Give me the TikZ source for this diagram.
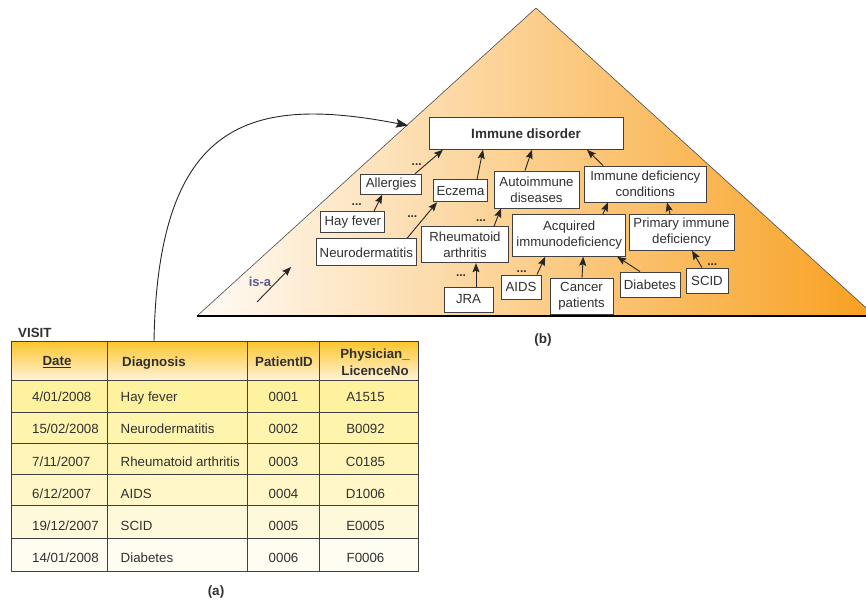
\documentclass[tikz,border=0pt]{standalone}
\usepackage{fontspec}
\setmainfont{Liberation Sans}
\usetikzlibrary{arrows.meta}
\definecolor{txt}{HTML}{303030}
\definecolor{orng}{HTML}{F8A020}
\definecolor{isacol}{HTML}{5A5A8C}
\definecolor{hdtop}{HTML}{FDC52C}
\definecolor{hdbot}{HTML}{FFF3D6}
\definecolor{rowa}{HTML}{FFF29E}
\definecolor{rowb}{HTML}{FFF4AE}
\definecolor{rowc}{HTML}{FFF5B8}
\definecolor{rowd}{HTML}{FFF7C8}
\definecolor{rowe}{HTML}{FFF9DC}
\definecolor{rowf}{HTML}{FFFDF2}
\begin{document}
\begin{tikzpicture}[x=1pt,y=-1pt,
  box/.style={draw=black!75, fill=white, line width=0.9pt, inner sep=0pt, align=center, text=txt, font=\fontsize{13.2}{16}\selectfont},
  arr/.style={-{Stealth[length=9pt,width=7pt,inset=1.5pt]}, line width=0.9pt, black!85},
  dotsnode/.style={font=\bfseries\fontsize{12}{12}\selectfont, inner sep=0pt, anchor=base, text=txt},
  cell/.style={font=\fontsize{13.3}{15}\selectfont, inner sep=0pt, anchor=base, text=txt},
  cellw/.style={cell, anchor=base west},
  head/.style={font=\bfseries\fontsize{13.3}{17}\selectfont, inner sep=0pt, text=txt, align=center},
  grid/.style={draw=black!75, line width=0.9pt},
  lbl/.style={font=\bfseries\fontsize{13.5}{15}\selectfont, inner sep=0pt, text=txt}]
\useasboundingbox (0,0) rectangle (866,605);

% ---------- triangle (b)
\begin{scope}
\clip (0,0) rectangle (866,605);
\shade[left color=orng!4!white, middle color=orng!52!white, right color=orng] (197,316) -- (536,8) -- (875,316) -- cycle;
\draw[black!70, line width=0.6pt] (197,316) -- (536,8) -- (875,316);
\draw[black, line width=1.3pt] (197,316) -- (875,316);
\end{scope}

% ---------- nodes
\node[box, font=\bfseries\fontsize{13.5}{15}\selectfont, minimum width=194pt, minimum height=32pt] (imm) at (526,133.3) {Immune disorder};
\node[box, minimum width=61pt, minimum height=20pt] (allg) at (391.2,184.2) {Allergies};
\node[box, minimum width=54pt, minimum height=22pt] (ecz) at (460.5,190.8) {Eczema};
\node[box, minimum width=85pt, minimum height=37pt] (auto) at (536.5,189.5) {Autoimmune\\diseases};
\node[box, minimum width=122pt, minimum height=36pt] (idc) at (645.3,184) {Immune deficiency\\conditions};
\node[box, minimum width=64pt, minimum height=21pt] (hay) at (352.9,222.2) {Hay fever};
\node[box, minimum width=100pt, minimum height=27pt] (neuro) at (366.3,252.3) {Neurodermatitis};
\node[box, minimum width=87pt, minimum height=36pt] (rheu) at (465,244.7) {Rheumatoid\\arthritis};
\node[box, minimum width=113pt, minimum height=42pt] (acq) at (569.2,235.3) {Acquired\\immunodeficiency};
\node[box, minimum width=105pt, minimum height=36pt] (prim) at (681.5,232.3) {Primary immune\\deficiency};
\node[box, minimum width=49pt, minimum height=25pt] (jra) at (468.5,299.5) {JRA};
\node[box, minimum width=40pt, minimum height=24pt] (aids) at (521,287) {AIDS};
\node[box, minimum width=63pt, minimum height=36pt] (canc) at (581.5,296) {Cancer\\patients};
\node[box, minimum width=60pt, minimum height=25pt] (diab) at (650,284.5) {Diabetes};
\node[box, minimum width=42pt, minimum height=25pt] (scid) at (707,280.5) {SCID};

% ---------- is-a arrows
\draw[arr] ([xshift=23.8pt]allg.north) -- ([xshift=-83pt]imm.south);
\draw[arr] ([xshift=21pt]hay.north) -- ([xshift=-9pt]allg.south);
\draw[arr] ([xshift=40.7pt]neuro.north) -- ([xshift=-23.5pt]ecz.south);
\draw[arr] ([xshift=16.5pt]ecz.north) -- ([xshift=-43pt]imm.south);
\draw[arr] ([xshift=29pt]rheu.north) -- ([xshift=-35.5pt]auto.south);
\draw[arr] ([xshift=-11.5pt]auto.north) -- ([xshift=6pt]imm.south);
\draw[arr] ([xshift=-42.3pt]idc.north) -- ([xshift=61pt]imm.south);
\draw[arr] ([xshift=33.8pt]acq.north) -- ([xshift=-37.3pt]idc.south);
\draw[arr] ([xshift=-11.5pt]prim.north) -- ([xshift=21.7pt]idc.south);
\draw[arr] ([xshift=7.5pt]jra.north) -- ([xshift=11pt]rheu.south);
\draw[arr] ([xshift=16pt]aids.north) -- ([xshift=-24pt]acq.south);
\draw[arr] ([xshift=0.5pt]canc.north) -- ([xshift=14pt]acq.south);
\draw[arr] ([xshift=-10pt]diab.north) -- ([xshift=48pt]acq.south);
\draw[arr] ([xshift=-5pt]scid.north) -- ([xshift=10.5pt]prim.south);

% ---------- dots
\node[dotsnode] (d1) at (416.7,165) {...};
\node[dotsnode] (d2) at (356.7,205.5) {...};
\node[dotsnode] (d3) at (412.3,217.5) {...};
\node[dotsnode] (d4) at (481,221.5) {...};
\node[dotsnode] (d5) at (461,276.5) {...};
\node[dotsnode] (d6) at (521.7,272) {...};
\node[dotsnode] (d7) at (712.3,265) {...};

% ---------- legend
\coordinate (isa1) at (257,302);
\coordinate (isa2) at (291,267);
\draw[arr] (isa1) -- (isa2);
\node[font=\bfseries\fontsize{13}{15}\selectfont, text=isacol, inner sep=0pt] (isa) at (260,282) {is-a};

% ---------- table (a)
\shade[top color=hdtop, bottom color=hdbot] (11,341) rectangle (418,380);
\fill[rowa] (11,380) rectangle (418,412);
\fill[rowb] (11,412) rectangle (418,443);
\fill[rowc] (11,443) rectangle (418,474);
\fill[rowd] (11,474) rectangle (418,505);
\fill[rowe] (11,505) rectangle (418,538);
\fill[rowf] (11,538) rectangle (418,571);
\foreach \yy in {380,412,443,474,505,538} \draw[grid] (11,\yy) -- (418,\yy);
\foreach \xx in {107.3,247.7,319.3} \draw[grid] (\xx,341) -- (\xx,571);
\draw[grid] (11,341) rectangle (418,571);

\node[font=\bfseries\fontsize{13.3}{15}\selectfont, text=txt, inner sep=0pt, anchor=west] (visit) at (18,333) {VISIT};

\node[head, anchor=base] (h1) at (57,365.6) {\underline{Date}};
\node[head, anchor=base west] (h2) at (122,366.5) {Diagnosis};
\node[head, anchor=base] (h3) at (284,366) {PatientID};
\node[head] (h4) at (375,362.5) {Physician\_\\LicenceNo};

\node[cellw] (r1c1) at (32,401.4) {4/01/2008};
\node[cellw] (r1c2) at (120.5,401.4) {Hay fever};
\node[cell] (r1c3) at (283.5,401.4) {0001};
\node[cell] (r1c4) at (365.5,401.4) {A1515};

\node[cellw] (r2c1) at (32,433.7) {15/02/2008};
\node[cellw] (r2c2) at (120.5,433.7) {Neurodermatitis};
\node[cell] (r2c3) at (283.5,433.7) {0002};
\node[cell] (r2c4) at (365.5,433.7) {B0092};

\node[cellw] (r3c1) at (32,466.4) {7/11/2007};
\node[cellw] (r3c2) at (120.5,466.4) {Rheumatoid arthritis};
\node[cell] (r3c3) at (283.5,466.4) {0003};
\node[cell] (r3c4) at (365.5,466.4) {C0185};

\node[cellw] (r4c1) at (32,498.7) {6/12/2007};
\node[cellw] (r4c2) at (120.5,498.7) {AIDS};
\node[cell] (r4c3) at (283.5,498.7) {0004};
\node[cell] (r4c4) at (365.5,498.7) {D1006};

\node[cellw] (r5c1) at (32,530.7) {19/12/2007};
\node[cellw] (r5c2) at (120.5,530.7) {SCID};
\node[cell] (r5c3) at (283.5,530.7) {0005};
\node[cell] (r5c4) at (365.5,530.7) {E0005};

\node[cellw] (r6c1) at (32,562.7) {14/01/2008};
\node[cellw] (r6c2) at (120.5,562.7) {Diabetes};
\node[cell] (r6c3) at (283.5,562.7) {0006};
\node[cell] (r6c4) at (365.5,562.7) {F0006};

% ---------- link from table to hierarchy
\coordinate (cs) at (154,341);
\coordinate (ce) at (408,125.5);
\draw[black!85, line width=0.9pt, -{Stealth[length=12pt,width=9pt,inset=2pt]}] (cs) .. controls (158,120) and (250,95) .. (ce);

% ---------- captions
\node[lbl] (capa) at (216,592) {(a)};
\node[lbl] (capb) at (543,340) {(b)};
\end{tikzpicture}
\end{document}
